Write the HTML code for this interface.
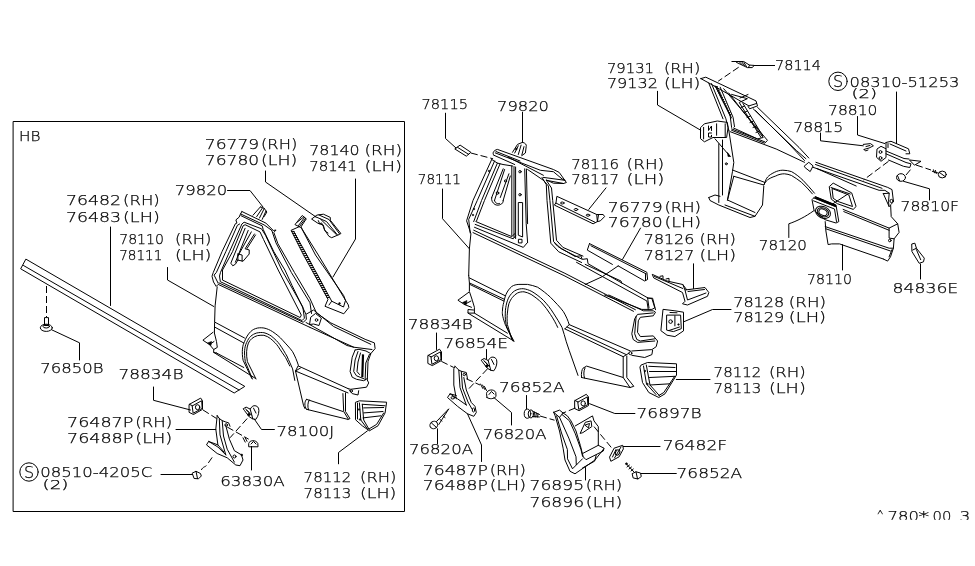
<!DOCTYPE html>
<html lang="en"><head><meta charset="utf-8"><title>Rear fender parts diagram</title>
<style>
html,body{margin:0;padding:0;background:#fff}
body{width:975px;height:566px;overflow:hidden}
svg{display:block;will-change:transform}
.t{font-family:"DejaVu Sans","Liberation Sans",sans-serif;font-weight:200;font-size:14.5px;fill:#000;stroke:#000;stroke-width:0.25}
.s{font-family:"DejaVu Sans","Liberation Sans",sans-serif;font-weight:200;font-size:12px;fill:#000;stroke:#000;stroke-width:0.25}
.f{font-family:"Liberation Sans","DejaVu Sans",sans-serif;font-size:13px;fill:#000}
.l{fill:none;stroke:#000;stroke-width:1;stroke-linecap:round;stroke-linejoin:round}
.k{fill:#000;stroke:#000;stroke-width:0.6}
.w{fill:#fff;stroke:#000;stroke-width:1;stroke-linejoin:round}
.d{fill:none;stroke:#000;stroke-width:1;stroke-dasharray:7 3}
</style></head><body>
<svg width="975" height="566" viewBox="0 0 975 566">
<rect x="0" y="0" width="975" height="566" fill="#fff"/>
<rect class="l" x="13.5" y="121.5" width="391" height="390"/>
<path class="l" d="M26.2,259.3 L244.8,386.4 L234.2,393.0 L21.0,269.0Z"/>
<path class="l" d="M23.5,265.5 L239.0,390.0"/>
<path class="l" d="M110.5,227.0 L110.5,305.5"/>
<path class="d" d="M46.5,286.0 L46.5,317.0"/>
<path class="l" d="M44.5,318.0 L44.5,325.5 L48.5,325.5 L48.5,318.0Z"/>
<ellipse class="l" cx="46.3" cy="327.8" rx="6" ry="3.6"/>
<ellipse class="l" cx="46.3" cy="326.4" rx="3.2" ry="1.6"/>
<path class="l" d="M51.5,329.7 L79.5,342.8 L79.5,360.0"/>
<path class="l" d="M167.5,267.5 L167.5,280.0 L213.8,306.5"/>
<path class="l" d="M153.5,387.0 L153.5,400.3 L190.5,410.0"/>
<path class="l" d="M227.5,190.5 L250.0,190.5 L263.0,207.0"/>
<path class="l" d="M265.5,171.0 L265.5,182.0 L316.0,217.0"/>
<path class="l" d="M355.5,179.0 L355.5,239.0 L333.0,277.0"/>
<path class="l" d="M260.4,206.9 L253.0,215.2"/>
<path class="l" d="M262.2,208.3 L256.7,216.6"/>
<path class="l" d="M264.1,208.8 L259.5,218.0"/>
<path class="l" d="M265.9,211.1 L262.2,219.4"/>
<path class="l" d="M264.1,208.3 L266.9,212.0 L264.1,216.6"/>
<path class="l" d="M260.4,206.9 L264.1,208.3"/>
<path class="l" d="M241.9,211.5 L265.9,223.1 L273.3,230.5 L276.1,230.0 L273.8,232.4 L277.9,243.7 L294.4,272.4 L310.0,298.7 L316.5,313.0"/>
<path class="l" d="M271.8,230.4 L275.9,242.7 L291.3,272.4 L310.0,302.8 L311.5,313.5"/>
<path class="l" d="M240.5,213.9 L264.1,224.9 L271.8,230.4"/>
<path class="l" d="M241.0,215.7 L262.2,225.9 L263.2,229.5 L273.8,251.7 L284.9,270.0 L292.0,285.4 L305.9,314.1 L306.4,319.2 L303.3,322.3 L218.7,282.8 L218.2,283.3 L214.1,275.1 L216.4,272.4 L225.8,251.7 L237.4,225.3 L239.6,224.0"/>
<path class="l" d="M241.9,211.5 L240.1,214.8 L239.2,217.1 L235.9,219.9 L236.9,223.1 L235.4,223.7 L222.0,251.7 L213.3,272.4 L212.0,276.2 L213.5,282.0 L216.2,286.4 L218.2,284.4 L310.0,327.4"/>
<path class="l" d="M220.3,281.3 L219.5,276.0 L220.5,272.4 L229.5,251.7 L241.9,224.0 L244.1,222.2 L261.5,228.8 L265.6,235.5 L281.8,270.0 L302.8,306.9 L304.4,318.2 L302.3,320.3Z"/>
<path class="l" d="M222.5,279.7 L222.5,270.0 L232.5,251.7 L243.1,225.8 L245.1,224.7 L260.0,231.9 L263.6,239.6 L278.2,270.0 L301.3,315.1 L300.3,317.2Z"/>
<path class="l" d="M245.1,228.3 L230.8,263.2 L232.8,265.8 L235.4,264.2 L237.9,260.1 M248.2,230.4 L235.4,262.2 M251.3,231.9 L237.9,256 M254.4,234 L245.1,248.8 L249.2,249.9 L249.2,254 L243.1,261.2 L237.9,260.1 M255.5,235 L247,248.5"/>
<path class="l" d="M237.9,254 L242.1,255 L242.1,261.2 M237.9,254 L237.9,260.1"/>
<path class="l" d="M311.9,218.8 L316.9,215.1 L323.4,214.2 L330.3,217.4 L330.3,220.2 L340.9,233.5 L339.1,234.5 L331.7,237.7 L328.9,236.3 L324.3,229.4 L323.4,225.2 L318.3,223.4Z"/>
<path class="l" d="M315.0,216.5 L326.5,221.5 L337.5,235.0"/>
<path class="l" d="M319.0,215.0 L329.0,219.5 L339.5,233.8"/>
<path class="l" d="M318.3,220.6 L319.7,223.8 L321.5,222.9 L323.4,226.6 L325.2,231.2 L328.0,233.0"/>
<path class="l" d="M320.6,219.2 L336.3,234.5"/>
<path class="l" d="M295.2,224.3 L302.2,215.5 L306.3,218.8 L300.8,227.1Z"/>
<path class="l" d="M297.5,222.0 L303.8,216.8"/>
<path class="l" d="M298.5,225.5 L304.5,217.5"/>
<path class="l" d="M299.6,226.4 L305.6,218.3"/>
<path class="l" d="M299.4,226.6 L291.1,230.3 L303.5,255.0 L328.0,299.3 L325.0,306.3 L343.8,313.8 L348.8,307.5 L348.3,304.9 L318.3,255.0 L302.6,229.9 L301.2,227.5"/>
<path class="l" d="M293.6,231.2 L306.8,255.0 L331.7,301.2 L329.0,305.0"/>
<path class="l" d="M301.2,227.5 L315.5,255.0 L343.7,295.6 L345.5,300.5"/>
<path class="l" d="M291.6,231.3 L294.2,231.6"/>
<path class="l" d="M292.7,233.3 L295.3,233.6"/>
<path class="l" d="M293.7,235.3 L296.3,235.6"/>
<path class="l" d="M294.8,237.3 L297.4,237.6"/>
<path class="l" d="M295.9,239.3 L298.5,239.6"/>
<path class="l" d="M297.0,241.3 L299.6,241.6"/>
<path class="l" d="M298.0,243.3 L300.6,243.6"/>
<path class="l" d="M299.1,245.3 L301.7,245.6"/>
<path class="l" d="M300.2,247.3 L302.8,247.6"/>
<path class="l" d="M301.2,249.3 L303.8,249.6"/>
<path class="l" d="M302.3,251.3 L304.9,251.6"/>
<path class="l" d="M303.4,253.3 L306.0,253.6"/>
<path class="l" d="M304.4,255.3 L307.0,255.6"/>
<path class="l" d="M305.5,257.3 L308.1,257.6"/>
<path class="l" d="M306.6,259.3 L309.2,259.6"/>
<path class="l" d="M307.7,261.3 L310.3,261.6"/>
<path class="l" d="M308.7,263.3 L311.3,263.6"/>
<path class="l" d="M309.8,265.3 L312.4,265.6"/>
<path class="l" d="M310.9,267.3 L313.5,267.6"/>
<path class="l" d="M311.9,269.3 L314.5,269.6"/>
<path class="l" d="M313.0,271.3 L315.6,271.6"/>
<path class="l" d="M314.1,273.3 L316.7,273.6"/>
<path class="l" d="M315.2,275.3 L317.8,275.6"/>
<path class="l" d="M316.2,277.3 L318.8,277.6"/>
<path class="l" d="M317.3,279.3 L319.9,279.6"/>
<path class="l" d="M318.4,281.3 L321.0,281.6"/>
<path class="l" d="M319.4,283.3 L322.0,283.6"/>
<path class="l" d="M320.5,285.3 L323.1,285.6"/>
<path class="l" d="M321.6,287.3 L324.2,287.6"/>
<path class="l" d="M322.6,289.3 L325.2,289.6"/>
<path class="l" d="M323.7,291.3 L326.3,291.6"/>
<path class="l" d="M324.8,293.3 L327.4,293.6"/>
<path class="l" d="M325.9,295.3 L328.5,295.6"/>
<path class="l" d="M326.9,297.3 L329.5,297.6"/>
<path class="l" d="M331.7,301.2 L343.5,307.0 L345.5,300.5"/>
<circle class="k" cx="339.5" cy="303.5" r="0.9"/>
<path class="l" d="M217.2,286.9 L215.1,305.9 L214.6,322.3 L214.4,333.0 L216.5,341.6 L217.3,347.4 L213.7,349.5 L213.7,352.4 L216.5,353.0"/>
<path class="l" d="M215.1,322.3 L244.5,338.0"/>
<path class="l" d="M215.1,327.3 L243.8,343.0"/>
<path class="l" d="M213.0,332.3 L202.9,340.2 L209.4,344.5 L213.7,349.5"/>
<path class="l" d="M209.4,344.5 L214.0,341.5"/>
<path class="k" d="M207.5,343 L211.5,341.5 L211,345.5Z"/>
<path class="l" d="M213.7,352.4 L255.3,378.3"/>
<path class="l" d="M216.5,353.0 L243.8,367.5"/>
<path class="l" d="M251.7,378.3 L243.1,360.3 C241.5,352 242.5,345 244.5,341.6 C247,335 251,330 255.3,328.7 C258,327.6 261,327.6 263.9,328 C267,328.6 270,330 272.5,331.6 C276,334 280,337 282.6,340.2 C286,344 290,348 292.6,351.7 C295,356 297,361 298.4,365.3 L295.5,371 L303.6,405.8 L305,408.6"/>
<path class="l" d="M252.4,379 L245.3,361.7 C244,353 244.3,347 246.7,342.4 C249,337 252,334.5 256.7,333 C259.5,332.4 262,332.4 263.9,332.7 C267,333.5 269,334.6 271.1,335.9 C275,339 278,342 279.7,344.5 C283,349 285,353 286.9,356 C289,361 291,365 292.6,368.9 L294.8,380.4"/>
<path class="l" d="M256,379 L247.4,361.7 C246,354 246.4,348 248.4,343.1 C250,339.5 253,337 257.5,335.6 C260,335.2 262,335.2 263.9,335.3 C266.5,336 268.5,337 270.4,338.5 C274,341.5 276.5,344 278.3,346.7 C281,351 283.5,354.5 285.5,357.4 C287.5,361 288.7,364 289.8,366"/>
<path class="l" d="M298.4,366.0 L348.0,388.6"/>
<path class="l" d="M295.5,371.0 L348.0,392.9"/>
<path class="l" d="M295.5,371.0 L300.5,368.0"/>
<path class="l" d="M310.0,327.4 L353.7,347.2"/>
<path class="l" d="M306.5,314.0 L313.6,310.0 L333.6,326.5 L370.8,344.3"/>
<path class="l" d="M316.5,313.0 L330.8,322.9 L365.1,339.3 L374.4,342.9 L375.1,348.6 L370.8,353.6 L368.0,361.5 L367.3,380.0 L368.7,382.9 L366.5,387.2 L350.8,389.3 L348.0,388.6"/>
<path class="l" d="M306.0,322.5 L347.0,345.5 L353.7,347.2 L372.0,349.5"/>
<path class="l" d="M311.0,317.0 L315.5,313.5 L321.4,318.0 L319.0,325.5 L313.5,324.0 L309.9,324.5Z"/>
<circle class="l" cx="316.5" cy="320" r="1.3"/>
<path class="l" d="M355.1,350 L352.2,357.2 L350.1,371.5 L352.2,377.2 L356.5,379.3 L363.7,380.7 L367.3,378.5"/>
<path class="l" d="M358,351.5 L355.1,360 L353.7,371.5 L356.5,375.8 L363.7,378.7"/>
<path class="l" d="M369.4,354.4 L365.8,363 L365.1,380"/>
<path class="l" d="M355.1,350 L359,349.3 L366,351 L370.8,353.6"/>
<path class="l" d="M360.5,353 L358,362 L357,371.5 L359.5,374.5"/>
<path d="M363,354.4 L362.3,377.2" stroke="#000" stroke-width="2.2" fill="none"/>
<path class="l" d="M349.4,390.0 L352.2,393.6 L358.0,395.0 L358.7,390.7"/>
<circle class="l" cx="351.3" cy="391" r="1.2"/>
<path class="l" d="M342.9,393.6 L343.7,411.5 L348.0,418.6"/>
<path class="l" d="M345.5,392.9 L345.5,411.5 L350.0,418.6 L348.0,419.4"/>
<path class="l" d="M306.5,399.3 L342.9,411.5 M306.5,409.3 L348,419.4 M306.5,399.3 C304.5,401.5 304,406 306.5,409.3 M309.3,400 C307.5,402.5 307.5,407 308.5,409.8"/>
<path class="l" d="M355.8,402.2 L359.4,400.8 L386.6,402.2 L385.1,412.9 L378.0,425.8 L369.4,430.8 L362.3,425.8 L355.8,420.0Z"/>
<path class="l" d="M362.3,404.3 L385.1,405.8"/>
<path class="l" d="M363.7,407.9 L383.7,407.5"/>
<path class="l" d="M363.7,412.9 L383.0,411.5"/>
<path class="l" d="M363.0,417.9 L380.8,415.8"/>
<path class="l" d="M362.3,404.3 L363.7,420.0 L369.4,430.0"/>
<path class="l" d="M359.4,402.9 L360.8,420.0 L367.3,428.7"/>
<path class="l" d="M383.7,412.9 L376.6,424.4 L369.4,428.7"/>
<path class="l" d="M357.5,403.0 L357.5,419.0"/>
<circle class="k" cx="359" cy="409.5" r="0.8"/><circle class="k" cx="360" cy="419.5" r="0.8"/>
<path class="l" d="M367.5,430.8 L338.5,452.5 L338.5,463.8"/>
<path class="l" d="M189.4,404.3 L200.7,398.1 L202.5,400.7 L202.5,409.4 L193.5,414.5 L189.4,412.5Z"/>
<path class="l" d="M192.5,405.8 L201.7,400.7 L202.2,408.4 L193.5,413.0Z"/>
<path class="l" d="M189.4,404.3 L192.5,405.8"/>
<ellipse class="l" cx="197.6" cy="407.2" rx="2.2" ry="2.5"/>
<path class="d" d="M202.9,409.9 L216.5,418.5"/>
<path class="l" d="M176.0,429.5 L215.8,429.5"/>
<path class="l" d="M217.2,415.6 L215.8,429.2 L217.9,444.9 M217.2,415.6 L219.3,418.5 L220,434.9 L225.8,454.9 M222.2,420.6 L223.5,436 L227.2,449.2 L234.4,462.1 M219.3,418.5 L222.2,420.6 L225.8,422 L228.6,422.8 L230,426.3 M225.8,425.6 L229.4,439.2 L234.4,450.7 L241.5,454.9 L243,460 L240,465.7 L235.8,465 L227.2,457.8 L217.2,453.5 L206.5,444.9 L208.6,441.4 L217.9,447 L225.8,454.9 M208.6,441.4 L217.9,444.9 L224,452"/>
<circle class="l" cx="226.2" cy="425" r="1.3"/><circle class="l" cx="234.5" cy="456.5" r="1.5"/><circle class="k" cx="241.8" cy="455" r="0.9"/>
<g transform="translate(-238,48.6)"><path class="l" d="M481.5,360 L484.1,358.5 L488.2,360.5 L489.7,358.5 C491,356.5 495,356.5 496.5,359.5 C497.5,362.5 496.5,367.5 493.8,370.8 L490.8,370.3 L487.2,368.2 L482.6,362.1Z M488.2,360.5 L490.8,370.3 M484.5,361.5 L489.5,366.5 M483.6,360.4 L487.4,364 M491.5,359.5 L494,364.5"/><circle class="k" cx="486.9" cy="366" r="1.3"/></g>
<path class="l" d="M254.4,419.2 L261.5,429.5 L274.4,429.5"/>
<path class="d" d="M247.2,418.5 L230.0,437.8"/>
<path class="l" d="M248.7,446.4 L248.7,443.5 C249.5,440 256,439.5 257.8,443.5 L258,446.4Z M251,444 L253.5,441.5 L256,444"/>
<path class="l" d="M251.5,446.4 L251.5,470.0"/>
<path class="d" d="M227.2,427.0 L248.7,439.2"/>
<path class="l" d="M243.0,437.8 L245.2,442.1"/>
<path class="l" d="M244.8,437.0 L247.0,441.3"/>
<path class="l" d="M161.0,474.5 L192.5,474.5"/>
<path class="l" d="M192.5,473 L196,471.3 L200.5,473.5 L201.3,476 L198.5,478.8 L194.5,478.5Z M196,471.3 L197.5,478.5"/>
<path class="d" d="M201.3,470 C203.5,466 205,467.5 207,465 C209.5,461 211.5,458.5 213.8,455"/>
<path class="l" d="M445.5,113.2 L445.5,138.5 L456.0,148.0"/>
<path class="l" d="M455.1,148.7 L460.1,145.1 L470.9,152.3 L466.6,155.9Z"/>
<path class="l" d="M457.5,147.3 L468.7,154.4"/>
<path class="d" d="M470.9,153.0 L493.1,158.8"/>
<path class="l" d="M522.5,112.2 L522.5,142.3"/>
<path class="l" d="M522.6,142.3 L517.5,144.4 L512.5,152.3 M522.6,142.3 C525.5,143 526.8,144.8 526.2,146.6 L525.4,153 L522,155.5 M518.3,145.8 L514.7,153 M521.1,145.1 L518.3,154.5 M524,146.6 L521.8,155.2"/>
<circle class="k" cx="516.3" cy="149" r="0.9"/>
<path class="l" d="M442.5,189.0 L442.5,218.7 L469.4,248.8"/>
<path class="l" d="M493.8,155.2 C492.2,153.5 493,150.5 497.4,149.4 L553.4,169.5 L559.2,172.4 L566.4,182.5 L563.5,183.5 L553.4,183.2 L546.5,180"/>
<path class="l" d="M495.3,152.9 L540.5,170.3 L553.4,171.7 L562,178.9 L564.9,180.3"/>
<path class="l" d="M493.8,155.2 L514.7,164.5 M496,151.5 L520,161 M543.4,177.4 L564.9,180.3 M546.3,180.3 L563.5,183.5"/>
<path class="l" d="M508,157 L543.4,175.3 M527.6,169.5 L543.4,180.3"/>
<path class="l" d="M491.7,159.5 L473.0,200.4 L466.6,220.8 L470.9,233.8 L469.4,248.8 L468.7,275.4"/>
<path class="l" d="M494.6,160.9 L477.3,200.4 L468.7,219.4 L470.2,233.0"/>
<path class="l" d="M497.4,163.1 L481.6,200.4 L473.7,221.6"/>
<path class="l" d="M500.0,164.0 L484.5,200.4 L476.5,221.0"/>
<path class="l" d="M491.7,159.5 L497.4,163.1 L503.0,164.5 L512.5,166.0"/>
<circle class="k" cx="489" cy="171" r="0.8"/><circle class="k" cx="474" cy="209" r="0.8"/><circle class="k" cx="473" cy="215" r="0.8"/>
<path class="l" d="M503.2,168.8 L491.7,197.5 M504.6,169.5 L494.5,200.4 M508.9,173.8 L500.3,197.5 M510.3,176 L503.2,200.4 M491.7,197.5 C491,200 492.5,203 495,204.5 C498,206 500.5,205 503,202.5 L503.2,200.4 M494.5,200.4 C495,203 497.5,204.5 499.5,203.5"/>
<circle class="l" cx="497.5" cy="193" r="1.3"/><circle class="l" cx="505.5" cy="181" r="1.1"/>
<path class="l" d="M511.8,166 L511.8,235.5 M514,166.5 L514,237.5 M515.6,167 L515.6,238.5 M524.7,168.8 L525.4,195 L526.2,223.7 L527.6,242.4 M526.4,169 L527.6,223.7"/>
<path class="l" d="M518.3,202.9 L518.3,235.2 L522.6,237 L522.6,203 Z"/>
<circle class="l" cx="520" cy="171.7" r="1.2"/><circle class="l" cx="520" cy="194.7" r="1.2"/>
<rect class="l" x="518.8" y="239.3" width="3.2" height="3.6"/>
<path class="l" d="M475.9,221.6 L511.8,236.6 L514.7,233.8 M475.2,224.4 L513.2,238.8 L515.6,236 M474.5,227.3 L523.3,247.4 L527.6,242.4 M473.7,230.2 L564.9,273.3 L635.4,309.7 M473,232.6 L564,275.6 L633.5,311.3"/>
<path class="l" d="M542,177.4 L546.3,184.6 L547,200.4 L550.8,243.2 L558.7,251.8 L581.6,262.5 M543.4,180.3 L548.4,186 L549.9,200.4 L553.6,241.7 L561.5,248.9 L581.6,259 M546.3,180.3 L551.5,188 L552.7,200.4 L556.5,240.3 L562.9,247.4 L583,256.1"/>
<path class="l" d="M555,243.6 L557.9,246.5 L575.1,256.5 L580.8,255.8 L582.3,259.4 L587.3,258.7 L588,263.7 L648.3,298.2 L652.6,298.2 L655.5,309.7 M576.5,262.3 L646.9,301 L648.3,309.7 M585.2,264.4 L605.3,273.8 L621,281 L621.8,283.2 M618.2,265.9 L602.4,276.6 L585.2,284.5"/>
<path class="l" d="M557.2,196.5 L596.7,214.5 L597.4,221.6 L593.1,223.8 L554.4,205.1 L555.8,203 Z M555.8,203 L595.3,222.4 M596.7,214.5 L603.2,214.5 L604.6,216.6 L600.3,220.9 L597.4,221.6 M598.5,215 L597.4,221.6"/>
<ellipse class="l" cx="562.3" cy="203" rx="1.8" ry="1"/><ellipse class="l" cx="576" cy="209.5" rx="1.8" ry="1"/><ellipse class="l" cx="588" cy="215.2" rx="1.8" ry="1"/>
<path class="l" d="M606.0,187.9 L588.8,209.4"/>
<path class="l" d="M589.5,243.6 L646.9,272.3 L647.6,279.5 L644.7,281 L618.2,265.9 M589.5,243.6 L587.3,250.1 L612.4,264.4 M590.9,245.8 L646.2,273.9 M645.5,274.5 L645.5,280.5"/>
<path class="l" d="M640.5,228.1 L622.5,259.4"/>
<path class="l" d="M468.7,275.4 L469.4,282.9 L469.4,291.5 L472.3,300.2 L474.4,307.3 L474.4,313.1 L468,313.1 L468,309.5 L473.5,310"/>
<path class="l" d="M469.4,277.9 L505.3,295.8 M469.4,282.9 L504.6,299.4 M470,284.5 L503.8,301"/>
<path class="l" d="M468.7,292.3 L457.9,300.2 L464.4,304.5 L471.5,307.3 M464.4,304.5 L471,301"/>
<path class="k" d="M462.5,302.5 L467,300.5 L466,305Z"/>
<path class="l" d="M468,313.1 L513.9,341.1 M474.4,313.1 L507.4,333.2"/>
<path class="l" d="M513.9,341.1 L505.3,324.6 C503,318 502,314 502.4,311.6 C502.5,308 503,305 503.8,302.3 C504.5,299 505,297 506,294.4 C507.5,291 509.5,288.5 511.7,286.5 C514,285 516,284.6 518.9,284.4 L527.5,284.4 C531,285 534.5,286 537.6,287.2 C542,290 547,294 550.5,297.3 C555,302 560,307 563.4,311.6 C566,316 568,320.5 569.2,324.6 L564.9,328.9"/>
<path class="l" d="M506.7,327.4 C505.5,322 505,317 505.3,313.1 C505.3,309 506,306 506.7,303 C507.5,300 508.5,297.5 510.3,295.1 C512,292.8 514,291 516.1,290.1 C518.5,289 521,288.6 523.2,288.7 C526,289 529,290 531.9,291.5 C536,294 540,297 543.3,300.2 C547,304 550.5,308.5 553.4,313.1 C556.5,318 559.5,322.5 562,327.4 C563.5,332 565,337 566.3,341.8 L569.2,350.4 L578,375.4"/>
<path class="l" d="M511.7,338.9 L507.4,324.6 C507,320 507,316 507.4,313.1 C507.6,309.5 508.2,306.5 508.9,303.7 C510,301 511,299 512.5,297.3 C514,295.5 515.5,294 517.5,293 C519.5,292 522,291.7 524,291.8 C526.5,292.3 529,293.2 531.1,294.4 C535,297 539,300 541.9,303 C545,306.5 548,310.5 550.5,314.5 C553.5,319 556,323.5 557.7,327.4"/>
<path class="l" d="M506.7,327.4 L513,341"/>
<path class="l" d="M569.2,324.6 L630.4,351 M564.9,328.9 L623.2,356.7 L628.9,353.2 M567,327 L626,354.5"/>
<circle class="l" cx="630.4" cy="353.2" r="1.5"/>
<path class="l" d="M604.5,295 L641.8,309.4 L651.9,309.4 L654.8,307.9 L651.9,298.6 L647.6,297.9 M647.6,297.9 L649,307.9 M608.8,295 L643.3,310.8 L653.3,310.8 L655.5,312.2 L653.3,315.8 L640.4,317.3 L638.3,320.8 L637.5,332.3 L640.4,336.6 L653.3,335.9 L657.6,341 L656.2,346.7 L651.9,349.6 L631.8,351"/>
<path class="l" d="M653.3,312.9 L637.5,314.4 L634.7,318.7 L631.8,333.8 L633.2,339.5 L637.5,342.4 L654.8,341"/>
<path class="l" d="M636.1,316.5 L634.7,333.8 L636.8,339.5 L640.4,341 L654.8,338.8"/>
<path class="l" d="M631.8,355.3 L644.7,357.5 L651.9,354.6 L652.6,350.3"/>
<path class="l" d="M623.2,356.7 L623.2,377.5 L630,387.5 L633.8,386.3 L626.8,377.5 L626.8,356"/>
<path class="l" d="M581.5,377.5 C581,373 582,369.5 583,368.2 L586.6,366.1 L623.2,377.5 M581.5,377.5 L630,387.5 M585,368 C583.5,371 583.5,375 584.5,378"/>
<path class="l" d="M663.4,309.4 L674.9,310.8 L683.5,312.2 L683.5,330.9 L674.9,336.6 L667,335.2 L661.2,330.9Z M667,315.1 L680.6,315.1 L681.3,328.7 L673.4,331.6 L667,330.2Z M674.9,315.8 L674.9,325.9 M669,330.5 L679.5,327 M670,312.5 L677,312.8"/>
<circle class="l" cx="670.6" cy="321.6" r="1.8"/><circle class="k" cx="678.5" cy="324.5" r="0.8"/>
<path class="l" d="M684.2,321.6 L712.5,309.5 L731,309.5"/>
<path class="l" d="M652.6,274.5 L667,281 L682.8,284.5 L685,290 L705,287.5 L708.8,292.5 L707.5,296.3 L687.5,305 L682.5,303.8 L685,301.3 L682.5,292.5 L654.1,278.1Z M654.5,276.5 L682.8,288.5 M685,290 L687.5,300 L706,293 M682.8,284.5 L686.5,289.5 M688,291.5 L704.5,289.5"/>
<path class="l" d="M660,276.3 L663,275.8 L663,278.5 M666,279 L669,278.3 L669,281"/>
<path class="l" d="M693.5,263.8 L693.5,288.5"/>
<path class="l" d="M641.3,365.0 L647.5,362.5 L676.5,363.8 L676.5,375.0 L665.0,393.8 L658.8,397.5 L648.8,392.5 L642.5,382.5 L640.0,367.5Z"/>
<path class="l" d="M648.8,366.3 L675.0,367.5"/>
<path class="l" d="M649.5,371.5 L676.0,371.5"/>
<path class="l" d="M649.5,377.5 L675.0,376.3"/>
<path class="l" d="M650.0,385.0 L670.0,383.8"/>
<path class="l" d="M646.3,365.0 L650.0,385.0 L660.0,396.3"/>
<path class="l" d="M643.5,366.0 L646.5,384.0 L656.0,394.5"/>
<path class="l" d="M674.5,376.5 L663.8,392.5 L658.8,395.5"/>
<circle class="k" cx="645" cy="371" r="0.8"/><circle class="k" cx="647.5" cy="384" r="0.8"/>
<path class="l" d="M676.3,379.5 L710.0,379.5"/>
<path class="l" d="M575.0,400.5 L586.3,394.3 L588.5,396.9 L588.5,405.6 L579.1,410.7 L575.0,408.7Z"/>
<path class="l" d="M578.1,402.0 L587.3,396.9 L587.8,404.6 L579.1,409.2Z"/>
<path class="l" d="M575.0,400.5 L578.1,402.0"/>
<ellipse class="l" cx="583.2" cy="403.4" rx="2.2" ry="2.5"/>
<path class="l" d="M589.6,403.7 L614.8,413.5 L634.9,413.5"/>
<path class="d" d="M575.3,408.0 L563.1,413.0"/>
<path class="l" d="M526.5,395.5 L526.5,408.7"/>
<ellipse class="l" cx="527.5" cy="413.7" rx="3.3" ry="4.6"/><ellipse class="l" cx="530.8" cy="413.9" rx="2.6" ry="4"/>
<path class="l" d="M533,411.5 L539.5,414.5 M532.5,416.5 L539.4,417 M534.5,412 L534,417 M536.3,413 L535.8,417 M538,413.8 L537.6,417"/>
<path class="d" d="M540.0,416.0 L554.5,420.2"/>
<path class="l" d="M553.7,412.3 L559.5,410.1 L563.1,413 L567.4,415.9 L571,420.9 L576,431 L580.3,445.3 L583.2,456.8"/>
<path class="l" d="M553.7,412.3 L555.2,415.9 L559.5,431 L563.1,448.2 L565,460 L570,471.3 L575,473.8 L595,460 L603.8,448.8"/>
<path class="l" d="M556.6,415.9 L561.5,433 L567.4,449.6 L567.5,458.8 L572.5,468.8 L576.3,465"/>
<path class="l" d="M559.5,417.3 L568.8,438.1 L576,456.8 L576.3,465 L582.5,458.8"/>
<path class="l" d="M553.7,412.3 L559.5,417.3 L563.1,413 M562,414.5 L569.5,420.9 L575.3,433.8 L581,449.6 L582.5,456"/>
<path class="l" d="M575.3,425.9 L592.5,415.9 L594,420.9 L598.3,426.6 L598.3,445.3 L583.2,453.2 M598.3,445.3 L604,448.2 L603.3,451 L586,459.7 L583.2,456.8 M596.1,455.4 L594.7,461.1 L582.5,468 M580.3,433.1 L585.3,422.3 L591.1,420.9 L591.8,426.6 L583.2,432.4 Z M585.3,425 L589.5,423.5 L588.5,427.5Z"/>
<path class="l" d="M585.5,467.5 L585.5,480.0"/>
<path class="l" d="M609.7,456.8 L614.1,448.2 L622.7,445.3 L623.4,448.9 L619.1,456.8 L611.2,461.1Z M612.5,457 L616,449.5 M614.5,458 L621,447"/>
<ellipse class="l" cx="617.6" cy="452.5" rx="2" ry="2.8" transform="rotate(30 617.6 452.5)"/>
<path class="l" d="M623.4,446.5 L660.0,446.5"/>
<path class="d" d="M594.0,426.6 L611.9,448.2"/>
<path class="l" d="M632.5,473.5 L636,471.8 L640.5,473 L641.3,476.5 L638,479 L633.5,478Z M636,471.8 L637.5,478.8"/>
<path class="l" d="M626.3,463.8 L634,472 M627,467 L629.5,465 M629,469 L631.5,467 M631,471 L633.3,469"/>
<circle class="k" cx="626.5" cy="463.8" r="1"/>
<path class="l" d="M641.3,473.5 L676.3,473.5"/>
<path class="l" d="M436.5,333.0 L436.5,349.5"/>
<path class="l" d="M428.2,355.4 L439.5,349.2 L441.5,351.8 L441.5,360.5 L432.3,365.6 L428.2,363.6Z"/>
<path class="l" d="M431.3,356.9 L440.5,351.8 L441.0,359.5 L432.3,364.1Z"/>
<path class="l" d="M428.2,355.4 L431.3,356.9"/>
<ellipse class="l" cx="436.4" cy="358.3" rx="2.2" ry="2.5"/>
<path class="d" d="M441.3,361.3 L453.8,367.5"/>
<path class="l" d="M455,366.3 L453.8,368.8 L453.8,385 L456.3,398.8 M455,366.3 L458.8,370 L460,387.5 L466.3,405 M458.8,370 L461.3,371.3 L466.3,372.5 L467.5,378.8 M463.8,377.5 L466.3,390 L471.3,402.5 L475,406.3 L476.3,412.5 L473.8,416.3 L467.5,413.8 L457.5,406.3 L447.5,397.5 L450,393.8 L457.5,398.8 L466.3,405 M461.3,371.3 L462.5,388 L468,402 L472,409 M450,393.8 L456.3,395.5"/>
<circle class="l" cx="464.3" cy="374.5" r="1.2"/><ellipse class="l" cx="452.8" cy="397.8" rx="1.8" ry="1.2"/><ellipse class="l" cx="473.5" cy="410" rx="1.2" ry="2"/>
<path class="l" d="M467.5,413.8 L481.5,445.0 L481.5,461.5"/>
<path class="l" d="M486.5,349.5 L486.5,358.8"/>
<g transform="translate(0,0)"><path class="l" d="M481.5,360 L484.1,358.5 L488.2,360.5 L489.7,358.5 C491,356.5 495,356.5 496.5,359.5 C497.5,362.5 496.5,367.5 493.8,370.8 L490.8,370.3 L487.2,368.2 L482.6,362.1Z M488.2,360.5 L490.8,370.3 M484.5,361.5 L489.5,366.5 M483.6,360.4 L487.4,364 M491.5,359.5 L494,364.5"/><circle class="k" cx="486.9" cy="366" r="1.3"/></g>
<path class="d" d="M487.5,368.8 L468.8,388.8"/>
<path class="l" d="M487,397.5 L486.5,393.5 C487,389.5 494,388.5 495.8,392.5 L496,396.5 C494,399 489.5,399.5 487,397.5Z M489,394.5 L491.5,391.5 L494,394"/>
<path class="d" d="M466.3,378.8 L480.0,385.0"/>
<path class="l" d="M480.5,384.0 L482.8,388.5"/>
<path class="l" d="M482.5,385.0 L484.8,389.5"/>
<path class="l" d="M484.5,386.5 L486.5,390.5"/>
<path class="l" d="M493.8,397.5 L511.5,412.5 L511.5,425.0"/>
<ellipse class="l" cx="433.8" cy="425" rx="4" ry="3.6" transform="rotate(-35 433.8 425)"/>
<path class="l" d="M431.5,423 L436.5,427.5 M436.5,421.5 L448.8,408.8 L438.8,424.5 M440,419.5 L442,421 M443,416 L445,417.5"/>
<path class="l" d="M437.5,428.8 L437.5,443.8"/>
<path class="l" d="M731.9,61.5 L743.7,61.5 L749.5,65.1 L754.1,65.4 L752.3,67.6 L747.3,67.6 L736.5,62.4 M739.5,62 L742,64.6 M741.8,62 L744.5,65.6 M744,62.5 L746.5,66.6 M749.5,65.1 L748.5,67.6"/>
<path class="l" d="M754.1,65.5 L774.6,65.5"/>
<path class="d" d="M738.7,67.2 L718.2,81.2"/>
<path class="l" d="M700.8,78.6 L705.8,77.2 L756,100.9 L757.5,105.9 L749.6,108.8 L748.2,106.6 M700.8,78.6 L708.7,82.9 L748.9,105.9 M748.9,105.9 L756.5,103.5 M740,98 L748,94.5 M731.6,94.4 L747.4,98.7 L739.5,102.3"/>
<path class="l" d="M753.2,108.8 L796.3,150.4 L805.9,158.7 M757.5,107.3 L799.1,147.5 L808.8,158 M755.5,110.5 L790,145 L804.5,160.5"/>
<path class="l" d="M708.7,82.9 L723,118.8 M711.5,83.6 L725.9,118.8 L728.8,130.3 M715.1,85.8 L730.2,116 L731.6,127.4 M716.6,86.5 L731.5,118 M720.2,87.2 L733.1,117.4 L734.5,126.7"/>
<path class="l" d="M715.8,87.0 L717.4,86.6"/>
<path class="l" d="M716.9,89.1 L718.5,88.7"/>
<path class="l" d="M717.9,91.3 L719.5,90.9"/>
<path class="l" d="M719.0,93.4 L720.6,93.0"/>
<path class="l" d="M720.0,95.6 L721.6,95.2"/>
<path class="l" d="M721.1,97.7 L722.7,97.3"/>
<path class="l" d="M722.1,99.9 L723.7,99.5"/>
<path class="l" d="M723.2,102.0 L724.8,101.6"/>
<path class="l" d="M724.3,104.1 L725.9,103.7"/>
<path class="l" d="M725.3,106.3 L726.9,105.9"/>
<path class="l" d="M726.4,108.4 L728.0,108.0"/>
<path class="l" d="M727.4,110.6 L729.0,110.2"/>
<path class="l" d="M728.5,112.7 L730.1,112.3"/>
<path class="l" d="M729.5,114.9 L731.1,114.5"/>
<path class="l" d="M723.7,88.7 L767.5,140.4 L764.7,143.2 L731.6,130.3 M728.8,93 L763.2,137.5 L757.5,138.9 L733.5,128 M731.6,128.9 L764.7,141.8 M730.2,131.7 L776.2,149 L804.5,162.3"/>
<path class="l" d="M739.5,103 L761,137.5 M743,103.5 L762.5,135.5 M741,107.5 L744.5,106 M744,112.5 L747.5,111 M747,117.5 L750.5,116 M750,122.5 L753.5,121 M753,127.5 L756.5,126 M756,132.5 L759.5,131"/>
<path class="l" d="M700.8,127.4 L704.4,123.8 L717.3,121 L727.3,122.4 L728.1,127.4 L726.6,137.5 L713,137.5 L704.4,141.8 L700.8,138.9Z M703.6,127.4 L703.6,138.9 M716.6,123.8 L716.6,135.3 M725.2,123.8 L725.2,137.5"/>
<path class="l" d="M708.5,126 L708.5,130.5 L711.5,126 L711.5,130.5 M711.5,133 L708.5,133 L708.5,137 L711.5,137 L711.5,135.3"/>
<path class="l" d="M657.5,91.3 L657.5,105.0 L700.8,130.3"/>
<path class="l" d="M718.8,143.8 L718.8,202.5 M722.5,140 L722.5,195 M728.8,130.3 L733.8,162.5 L732.5,171.3 L727.5,200 M715,138.8 L730,156.3"/>
<circle class="l" cx="726.3" cy="163.8" r="1"/><path class="k" d="M727.5,152.5 L730.5,156.5 L728,156.5Z"/>
<path class="l" d="M732.5,170 L765,182.5 L763.8,185 L733.8,176.3 M763.8,186.3 L762.5,205 L755,216.3 L725,205 M727.5,200 L755,212.5 M708.8,197.5 L715,195 L720,196.3 M708.8,197.5 L710,200.5 L718.8,205 L750,217.5 L755,216.3 M733.8,176.3 L727.5,200"/>
<path class="l" d="M765,182.5 C766,178 768,175.5 774.3,172.4 C777,171 780,170.2 782.9,170.2 C786,170.3 789,170.8 791.5,171.6 C796,174 800,177.5 803,180.3 C807,184.5 811,189 814.5,193.2"/>
<path class="l" d="M763.8,185 C765.5,181 768,178.5 775.7,176 C778.5,174.5 781.5,173.8 784.4,173.8 C787,174 789,174.5 791.5,175.5 C795,177.5 798.5,180 801.6,182.4 C805.5,186 809,190 812.4,193.9"/>
<path class="l" d="M804.5,165.9 L808.8,162.3 L813.1,165.9 L810.2,171.6 L805.5,168Z"/>
<path class="l" d="M815.9,162.3 L887.7,187.4 L892,189.6 L893.5,201.8 L890.6,204.7 L891.2,216.6 L897.7,223.8 L899.1,232.4 L894.1,238.8 L893.4,248.2 L890.5,256.8 L887.6,261.1 L883.3,259"/>
<path class="l" d="M813.1,167.3 L879.1,190.3 L884.9,190.3 L889.2,193.2 L888.5,201.8 L889.1,206.5 M815.5,164.5 L882,188.3 M817.4,168.8 L856.2,186 M883.3,193.6 L889.1,206.5 M889.2,193.2 L883.3,193.6"/>
<circle class="l" cx="891.5" cy="201" r="1.6"/>
<path class="l" d="M829.5,186.4 L833.2,183.1 L851.7,192.9 L856.1,206.5 L853.2,209.4 L837.4,203.7 L831.6,199.4Z M832.4,188.6 L848.9,195 L852.5,206.5 L838,201.5 L833.5,198.5Z M833.1,203.7 L847.4,194.3 M831,187.5 L850.3,194"/>
<path class="l" d="M812.3,199.4 L815.1,196.5 L836,205.1 L838.8,221.6 L836,223 L824.5,219.5 L814.4,210.8Z M813.5,200.8 L834.5,209 L836.5,221.5 M814,198 L836,206.8"/>
<path d="M815.1,197.5 L836,206" stroke="#000" stroke-width="2.4" fill="none"/>
<ellipse class="l" cx="823" cy="212.3" rx="7.9" ry="5.7" transform="rotate(25 823 212.3)"/><ellipse class="l" cx="823" cy="212.3" rx="4.3" ry="3" transform="rotate(25 823 212.3)"/><ellipse class="l" cx="823" cy="212.3" rx="6" ry="4.3" transform="rotate(25 823 212.3)"/>
<path class="l" d="M813.7,210.8 C805,217 797,221 788.8,223.8 L788.8,237.5"/>
<path class="l" d="M843.1,209.4 L889.1,228.1 L897.7,223.8 M843.8,211.6 L889.1,230.3 M889.1,228.1 L889.1,238.1 L894.1,238.8 M825.2,221.6 L825.9,231 L828.1,244.6 L831.6,243.9 L839.5,243.9 L883.3,259 M825.2,226.6 L889.1,248.2 L893.4,248.2 M825.9,228.8 L890.5,251 M892,249.6 L889.1,256.8"/>
<circle class="l" cx="889.8" cy="240.5" r="1.3"/>
<path class="l" d="M842.5,244.6 L842.5,270.0"/>
<path class="l" d="M912.1,243.9 L914.9,243.2 L916.4,248.2 L924.3,258.2 L923.5,261.8 L919.2,263.3 L912.1,251.8Z M912.8,250 L916.4,248.2 M916.4,249.6 L920.7,259.7"/>
<path class="l" d="M920.5,264.0 L920.5,279.0"/>
<path class="l" d="M820.5,133.0 L820.5,140.8 L863.3,145.8"/>
<path class="l" d="M863.3,144.4 L870.5,143.6 L873.4,145.8 L869.1,148 L864.1,149.4 M866,146.5 L870,145.5 M864.1,149.4 L865.5,151 L868,150"/>
<path class="l" d="M857.5,116.5 L857.5,135.0 L884.9,143.6"/>
<path class="l" d="M896.5,92.0 L896.5,143.6"/>
<path class="l" d="M877.3,148.8 L881,146.3 L886,148.8 L886,157.5 L881,161.3 L876.8,157.5Z"/>
<circle class="l" cx="880.5" cy="152" r="1.4"/><circle class="l" cx="880.5" cy="158" r="1.4"/>
<path class="l" d="M886,142.5 L891,141.3 L908.5,148.8 L909.8,153.8 L906,153.8 M886,142.5 L886,148.8 M888,143.5 L888,147.5 M890,144 L906,151 M886,153.8 L906,162.5 L911,163.8 L909.8,167.5 L903.5,166.3 L888.5,160 M886,151 L904,158.5 L909,159"/>
<path class="l" d="M909.8,160 L921,161.3 L914.8,165Z"/>
<path class="d" d="M916.0,165.0 L931.0,170.0"/>
<path class="l" d="M932.3,171.3 L938,173 M933.5,169.8 L934.5,172.8 M935.5,170.5 L936.3,173.5"/>
<ellipse class="l" cx="942.3" cy="174.5" rx="4" ry="3.4"/>
<path class="l" d="M939.5,172.5 L945,176.5"/>
<ellipse class="l" cx="901" cy="177.5" rx="4.5" ry="3.8"/>
<path class="l" d="M897.5,175.5 L899.5,180.5"/>
<path class="d" d="M906.0,175.0 L912.3,167.5"/>
<path class="l" d="M903.5,181.3 L929.5,188.8 L929.5,200.0"/>
<path class="d" d="M888.5,161.3 L863.5,180.0"/>
<circle class="l" cx="29" cy="472" r="9.2"/>
<text class="s" style="font-size:16px" x="23.9" y="477.8">S</text>
<circle class="l" cx="838" cy="81.3" r="9.2"/>
<text class="s" style="font-size:16px" x="832.9" y="87.1">S</text>
<text class="s" y="488.70"><tspan x="42.50" textLength="26.00" lengthAdjust="spacingAndGlyphs">(2)</tspan></text>
<text class="s" y="98.30"><tspan x="851.50" textLength="25.50" lengthAdjust="spacingAndGlyphs">(2)</tspan></text>
<clipPath id="fc"><rect x="870" y="500" width="105" height="19.8"/></clipPath>
<g clip-path="url(#fc)"><text class="t" y="521.00"><tspan x="876.60" textLength="7.40" lengthAdjust="spacingAndGlyphs">^</tspan><tspan x="887.60" textLength="31.40" lengthAdjust="spacingAndGlyphs">780</tspan><tspan x="918.30" textLength="11.10" lengthAdjust="spacingAndGlyphs">*</tspan><tspan x="932.60" textLength="18.90" lengthAdjust="spacingAndGlyphs">00</tspan> <tspan x="959.50" textLength="10.80" lengthAdjust="spacingAndGlyphs">3</tspan></text></g>
<text class="t" y="141.20"><tspan x="19.00" textLength="21.50" lengthAdjust="spacingAndGlyphs">HB</tspan></text>
<text class="t" y="148.60"><tspan x="204.75" textLength="54.44" lengthAdjust="spacingAndGlyphs">76779</tspan><tspan x="260.99" textLength="36.26" lengthAdjust="spacingAndGlyphs">(RH)</tspan></text>
<text class="t" y="164.90"><tspan x="204.75" textLength="54.44" lengthAdjust="spacingAndGlyphs">76780</tspan><tspan x="260.99" textLength="36.26" lengthAdjust="spacingAndGlyphs">(LH)</tspan></text>
<text class="t" y="155.20"><tspan x="309.20" textLength="50.50" lengthAdjust="spacingAndGlyphs">78140</tspan> <tspan x="364.40" textLength="37.60" lengthAdjust="spacingAndGlyphs">(RH)</tspan></text>
<text class="t" y="170.90"><tspan x="309.20" textLength="47.60" lengthAdjust="spacingAndGlyphs">78141</tspan> <tspan x="364.40" textLength="37.60" lengthAdjust="spacingAndGlyphs">(LH)</tspan></text>
<text class="t" y="195.40"><tspan x="174.75" textLength="52.50" lengthAdjust="spacingAndGlyphs">79820</tspan></text>
<text class="t" y="205.40"><tspan x="66.00" textLength="55.17" lengthAdjust="spacingAndGlyphs">76482</tspan><tspan x="123.01" textLength="36.74" lengthAdjust="spacingAndGlyphs">(RH)</tspan></text>
<text class="t" y="221.60"><tspan x="66.00" textLength="55.17" lengthAdjust="spacingAndGlyphs">76483</tspan><tspan x="123.01" textLength="36.74" lengthAdjust="spacingAndGlyphs">(LH)</tspan></text>
<text class="t" y="244.10"><tspan x="119.20" textLength="44.80" lengthAdjust="spacingAndGlyphs">78110</tspan> <tspan x="175.00" textLength="36.40" lengthAdjust="spacingAndGlyphs">(RH)</tspan></text>
<text class="t" y="260.40"><tspan x="119.20" textLength="43.10" lengthAdjust="spacingAndGlyphs">78111</tspan> <tspan x="175.00" textLength="36.40" lengthAdjust="spacingAndGlyphs">(LH)</tspan></text>
<text class="t" y="372.60"><tspan x="40.25" textLength="63.25" lengthAdjust="spacingAndGlyphs">76850B</tspan></text>
<text class="t" y="379.40"><tspan x="118.50" textLength="65.00" lengthAdjust="spacingAndGlyphs">78834B</tspan></text>
<text class="t" y="426.90"><tspan x="67.00" textLength="66.34" lengthAdjust="spacingAndGlyphs">76487P</tspan><tspan x="135.22" textLength="37.03" lengthAdjust="spacingAndGlyphs">(RH)</tspan></text>
<text class="t" y="443.20"><tspan x="67.00" textLength="66.34" lengthAdjust="spacingAndGlyphs">76488P</tspan><tspan x="135.22" textLength="37.03" lengthAdjust="spacingAndGlyphs">(LH)</tspan></text>
<text class="t" y="476.90"><tspan x="40.25" textLength="112.00" lengthAdjust="spacingAndGlyphs">08510-4205C</tspan></text>
<text class="t" y="436.10"><tspan x="276.50" textLength="57.75" lengthAdjust="spacingAndGlyphs">78100J</tspan></text>
<text class="t" y="486.10"><tspan x="220.25" textLength="64.50" lengthAdjust="spacingAndGlyphs">63830A</tspan></text>
<text class="t" y="481.70"><tspan x="303.60" textLength="47.70" lengthAdjust="spacingAndGlyphs">78112</tspan> <tspan x="360.00" textLength="36.40" lengthAdjust="spacingAndGlyphs">(RH)</tspan></text>
<text class="t" y="497.50"><tspan x="303.60" textLength="47.70" lengthAdjust="spacingAndGlyphs">78113</tspan> <tspan x="360.00" textLength="36.40" lengthAdjust="spacingAndGlyphs">(LH)</tspan></text>
<text class="t" y="109.40"><tspan x="421.50" textLength="46.50" lengthAdjust="spacingAndGlyphs">78115</tspan></text>
<text class="t" y="110.90"><tspan x="497.00" textLength="52.00" lengthAdjust="spacingAndGlyphs">79820</tspan></text>
<text class="t" y="184.40"><tspan x="417.75" textLength="43.25" lengthAdjust="spacingAndGlyphs">78111</tspan></text>
<text class="t" y="168.60"><tspan x="571.30" textLength="47.70" lengthAdjust="spacingAndGlyphs">78116</tspan> <tspan x="626.60" textLength="37.60" lengthAdjust="spacingAndGlyphs">(RH)</tspan></text>
<text class="t" y="184.00"><tspan x="571.30" textLength="47.70" lengthAdjust="spacingAndGlyphs">78117</tspan> <tspan x="626.60" textLength="37.60" lengthAdjust="spacingAndGlyphs">(LH)</tspan></text>
<text class="t" y="72.50"><tspan x="606.90" textLength="47.10" lengthAdjust="spacingAndGlyphs">79131</tspan> <tspan x="663.90" textLength="36.40" lengthAdjust="spacingAndGlyphs">(RH)</tspan></text>
<text class="t" y="88.40"><tspan x="606.90" textLength="51.10" lengthAdjust="spacingAndGlyphs">79132</tspan> <tspan x="663.90" textLength="36.40" lengthAdjust="spacingAndGlyphs">(LH)</tspan></text>
<text class="t" y="70.40"><tspan x="775.00" textLength="46.00" lengthAdjust="spacingAndGlyphs">78114</tspan></text>
<text class="t" y="86.50"><tspan x="849.50" textLength="110.00" lengthAdjust="spacingAndGlyphs">08310-51253</tspan></text>
<text class="t" y="114.90"><tspan x="828.00" textLength="49.50" lengthAdjust="spacingAndGlyphs">78810</tspan></text>
<text class="t" y="131.50"><tspan x="793.25" textLength="50.00" lengthAdjust="spacingAndGlyphs">78815</tspan></text>
<text class="t" y="211.10"><tspan x="900.50" textLength="58.50" lengthAdjust="spacingAndGlyphs">78810F</tspan></text>
<text class="t" y="249.90"><tspan x="758.75" textLength="48.25" lengthAdjust="spacingAndGlyphs">78120</tspan></text>
<text class="t" y="284.10"><tspan x="807.00" textLength="45.00" lengthAdjust="spacingAndGlyphs">78110</tspan></text>
<text class="t" y="293.10"><tspan x="892.50" textLength="65.75" lengthAdjust="spacingAndGlyphs">84836E</tspan></text>
<text class="t" y="306.70"><tspan x="733.20" textLength="51.10" lengthAdjust="spacingAndGlyphs">78128</tspan> <tspan x="788.80" textLength="37.20" lengthAdjust="spacingAndGlyphs">(RH)</tspan></text>
<text class="t" y="322.40"><tspan x="733.20" textLength="51.10" lengthAdjust="spacingAndGlyphs">78129</tspan> <tspan x="788.80" textLength="37.20" lengthAdjust="spacingAndGlyphs">(LH)</tspan></text>
<text class="t" y="211.50"><tspan x="607.75" textLength="54.88" lengthAdjust="spacingAndGlyphs">76779</tspan><tspan x="664.45" textLength="36.55" lengthAdjust="spacingAndGlyphs">(RH)</tspan></text>
<text class="t" y="226.90"><tspan x="607.75" textLength="54.88" lengthAdjust="spacingAndGlyphs">76780</tspan><tspan x="664.45" textLength="36.55" lengthAdjust="spacingAndGlyphs">(LH)</tspan></text>
<text class="t" y="244.20"><tspan x="643.80" textLength="50.50" lengthAdjust="spacingAndGlyphs">78126</tspan> <tspan x="699.60" textLength="36.40" lengthAdjust="spacingAndGlyphs">(RH)</tspan></text>
<text class="t" y="260.40"><tspan x="643.80" textLength="50.50" lengthAdjust="spacingAndGlyphs">78127</tspan> <tspan x="699.60" textLength="36.40" lengthAdjust="spacingAndGlyphs">(LH)</tspan></text>
<text class="t" y="329.20"><tspan x="407.75" textLength="65.25" lengthAdjust="spacingAndGlyphs">78834B</tspan></text>
<text class="t" y="347.90"><tspan x="443.50" textLength="64.50" lengthAdjust="spacingAndGlyphs">76854E</tspan></text>
<text class="t" y="391.90"><tspan x="499.00" textLength="65.75" lengthAdjust="spacingAndGlyphs">76852A</tspan></text>
<text class="t" y="439.10"><tspan x="482.75" textLength="63.75" lengthAdjust="spacingAndGlyphs">76820A</tspan></text>
<text class="t" y="453.50"><tspan x="409.00" textLength="64.00" lengthAdjust="spacingAndGlyphs">76820A</tspan></text>
<text class="t" y="474.90"><tspan x="422.75" textLength="65.09" lengthAdjust="spacingAndGlyphs">76487P</tspan><tspan x="489.65" textLength="36.35" lengthAdjust="spacingAndGlyphs">(RH)</tspan></text>
<text class="t" y="490.40"><tspan x="422.75" textLength="65.09" lengthAdjust="spacingAndGlyphs">76488P</tspan><tspan x="489.65" textLength="36.35" lengthAdjust="spacingAndGlyphs">(LH)</tspan></text>
<text class="t" y="490.40"><tspan x="529.50" textLength="54.59" lengthAdjust="spacingAndGlyphs">76895</tspan><tspan x="585.89" textLength="36.36" lengthAdjust="spacingAndGlyphs">(RH)</tspan></text>
<text class="t" y="506.50"><tspan x="529.50" textLength="54.59" lengthAdjust="spacingAndGlyphs">76896</tspan><tspan x="585.89" textLength="36.36" lengthAdjust="spacingAndGlyphs">(LH)</tspan></text>
<text class="t" y="377.20"><tspan x="713.60" textLength="47.70" lengthAdjust="spacingAndGlyphs">78112</tspan> <tspan x="768.90" textLength="36.90" lengthAdjust="spacingAndGlyphs">(RH)</tspan></text>
<text class="t" y="393.00"><tspan x="713.60" textLength="47.70" lengthAdjust="spacingAndGlyphs">78113</tspan> <tspan x="768.90" textLength="36.90" lengthAdjust="spacingAndGlyphs">(LH)</tspan></text>
<text class="t" y="417.90"><tspan x="636.50" textLength="65.25" lengthAdjust="spacingAndGlyphs">76897B</tspan></text>
<text class="t" y="449.90"><tspan x="662.75" textLength="64.50" lengthAdjust="spacingAndGlyphs">76482F</tspan></text>
<text class="t" y="478.10"><tspan x="676.50" textLength="65.75" lengthAdjust="spacingAndGlyphs">76852A</tspan></text>
</svg>
</body></html>
